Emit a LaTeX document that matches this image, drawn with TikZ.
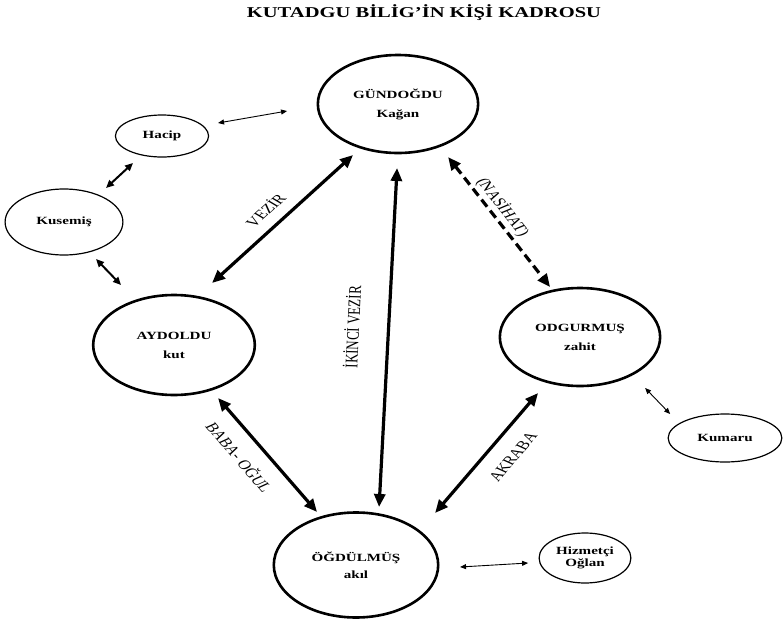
\documentclass[tikz,border=0pt]{standalone}
\usepackage{fontspec}
\setmainfont{Liberation Serif}
\usetikzlibrary{shapes.geometric,arrows.meta}
\tikzset{
  kisi/.style={ellipse, draw, line width=2.6pt, minimum width=117pt, minimum height=98pt, inner sep=0pt, align=center, font=\fontsize{11}{14}\selectfont\bfseries},
  yan/.style={ellipse, draw, line width=1.2pt, inner sep=0pt, align=center, font=\fontsize{11}{12}\selectfont\bfseries},
  bag/.style={line width=3.2pt, {Triangle[length=13pt,width=11pt]}-{Triangle[length=13pt,width=11pt]}},
  orta/.style={line width=2pt, {Triangle[length=8pt,width=7pt]}-{Triangle[length=8pt,width=7pt]}},
  ince/.style={line width=0.9pt, {Triangle[length=6pt,width=5pt]}-{Triangle[length=6pt,width=5pt]}},
  etiket/.style={font=\fontsize{13}{13}\selectfont, inner sep=0pt}
}
\begin{document}
\begin{tikzpicture}[x=0.72993pt, y=-1pt, xscale=1.37, every node/.append style={transform shape}]
  \useasboundingbox (0,0) rectangle (784,622);
  % baslik
  \node[font=\fontsize{15}{15}\selectfont\bfseries, anchor=base] (baslik) at (424,17) {KUTADGU BİLİG’İN KİŞİ KADROSU};

  % dort ana kisi
  \node[kisi] (gun) at (398,104) {GÜNDOĞDU\\[5pt]Kağan};
  \node[kisi, minimum width=118pt, minimum height=100pt] (ayd) at (174,345) {AYDOLDU\\[5pt]kut};
  \node[kisi] (odg) at (580,337) {ODGURMUŞ\\[5pt]zahit};
  \node[kisi, minimum width=120pt, minimum height=105pt] (ogd) at (356,565) {ÖĞDÜLMÜŞ\\[3pt]akıl};

  % yan kisiler
  \node[yan, minimum width=68pt, minimum height=42pt] (hac) at (162,136) {Hacip};
  \node[yan, minimum width=86pt, minimum height=66pt] (kus) at (64,222) {Kusemiş};
  \node[yan, minimum width=83pt, minimum height=48pt] (kum) at (725,438) {Kumaru};
  \node[yan, minimum width=67pt, minimum height=50pt] (hiz) at (585,558) {Hizmetçi\\Oğlan};

  % iliskiler
  \draw[bag] ([shift={(38,-62)}]ayd.center) -- ([shift={(-45,51)}]gun.center);
  \draw[bag] ([shift={(-1,64)}]gun.center) -- ([shift={(23,-58)}]ogd.center);
  \draw[bag, dash pattern=on 9pt off 5pt] ([shift={(50,53)}]gun.center) -- ([shift={(-30,-50)}]odg.center);
  \draw[bag] ([shift={(44,53)}]ayd.center) -- ([shift={(-39,-53)}]ogd.center);
  \draw[bag] ([shift={(79,-52)}]ogd.center) -- ([shift={(-42,56)}]odg.center);

  \draw[ince] ([shift={(56,-13)}]hac.center) -- ([shift={(-111,7)}]gun.center);
  \draw[orta] ([shift={(-29,27)}]hac.center) -- ([shift={(42,-34)}]kus.center);
  \draw[orta] ([shift={(32,37)}]kus.center) -- ([shift={(-53,-60)}]ayd.center);
  \draw[ince] ([shift={(65,51)}]odg.center) -- ([shift={(-55,-24)}]kum.center);
  \draw[ince] ([shift={(104,2)}]ogd.center) -- ([shift={(-57,5)}]hiz.center);

  % etiketler
  \node[etiket, rotate=51] (vezir) at (265,210) {VEZİR};
  \node[etiket, rotate=88] (ikinci) at (352,327) {İKİNCİ VEZİR};
  \node[etiket, rotate=-60] (nasihat) at (503,207) {(NASİHAT)};
  \node[etiket, rotate=-58] (baba) at (240,457) {BABA- OĞUL};
  \node[etiket, rotate=58] (akraba) at (513,457) {AKRABA};
\end{tikzpicture}
\end{document}
